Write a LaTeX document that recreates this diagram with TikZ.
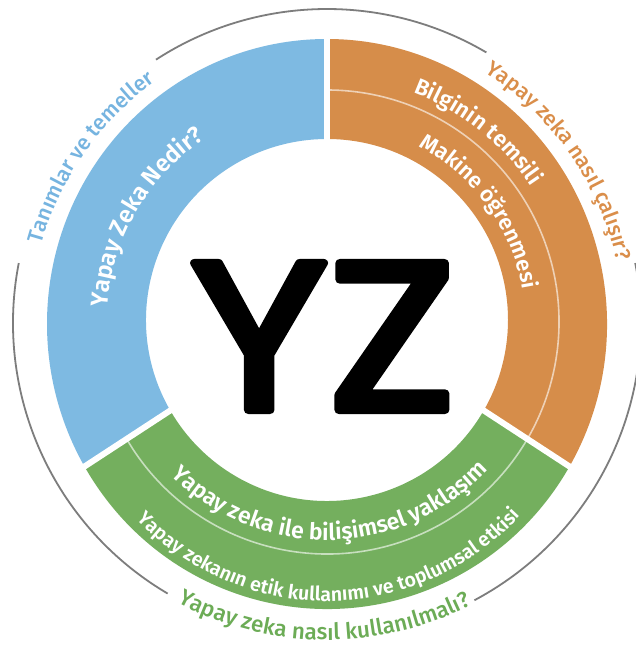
\documentclass[tikz,border=0pt]{standalone}
\usepackage{fontspec}
\setmainfont{Fira Sans}
\newfontfamily\firasemi{Fira Sans SemiBold}
\newfontfamily\firamed{Fira Sans Medium}
\newfontfamily\yzfont{Poppins}
\usetikzlibrary{decorations.text,calc}
\definecolor{cblue}{RGB}{126,186,226}
\definecolor{corange}{RGB}{214,141,74}
\definecolor{cgreen}{RGB}{116,175,94}
\definecolor{cgray}{RGB}{125,125,125}
\definecolor{tblue}{RGB}{118,180,224}
\definecolor{torange}{RGB}{218,142,74}
\definecolor{tgreen}{RGB}{108,172,86}
\begin{document}
\begin{tikzpicture}[x=1pt,y=1pt,
  grayarc/.style={draw=cgray,line width=1.8pt},
  gapline/.style={draw=white,line width=6pt},
  divline/.style={draw=white,draw opacity=0.6,line width=1.6pt}]
\useasboundingbox (0,0) rectangle (636,645);
\fill[white] (0,0) rectangle (636,645);
\clip (0,0) rectangle (636,645);
\coordinate (O) at (327,321);
\coordinate (I) at (327,325);
\coordinate (D) at (327,323);
\coordinate (G) at (327,322);
% ring corners
\coordinate (o90) at ($(O)+(90:280 and 285)$);
\coordinate (o210) at ($(O)+(210:280 and 285)$);
\coordinate (o330) at ($(O)+(330:280 and 285)$);
\coordinate (i90) at ($(I)+(90:181)$);
\coordinate (i210) at ($(I)+(210:181)$);
\coordinate (i330) at ($(I)+(330:181)$);
% ring sectors
\fill[cblue] (o90) arc[start angle=90,end angle=210,x radius=280,y radius=285]
  -- (i210) arc[start angle=210,end angle=90,radius=181] -- cycle;
\fill[cgreen] (o210) arc[start angle=210,end angle=330,x radius=280,y radius=285]
  -- (i330) arc[start angle=330,end angle=210,radius=181] -- cycle;
\fill[corange] (o330) arc[start angle=-30,end angle=90,x radius=280,y radius=285]
  -- (i90) arc[start angle=90,end angle=-30,radius=181] -- cycle;
% divider
\draw[divline] ($(D)+(210:232)$) arc[start angle=210,end angle=450,radius=232];
% gaps
\draw[gapline] ($(i90)!-0.1!(o90)$) -- ($(i90)!1.1!(o90)$);
\draw[gapline] ($(i210)!-0.1!(o210)$) -- ($(i210)!1.1!(o210)$);
\draw[gapline] ($(i330)!-0.1!(o330)$) -- ($(i330)!1.1!(o330)$);
% gray arcs
\draw[grayarc] ($(G)+(59.5:314)$) arc[start angle=59.5,end angle=123,radius=314];
\draw[grayarc] ($(G)+(169:314)$) arc[start angle=169,end angle=239.5,radius=314];
\draw[grayarc] ($(G)+(-62:314)$) arc[start angle=-62,end angle=11,radius=314];
% outer labels
\path[decorate,decoration={text along path,text align=center,text color=tblue,
  text={|\firamed\fontsize{21.5}{21.5}\selectfont|Tanımlar ve temeller}}]
  ($(G)+(185:296)$) arc[start angle=185,end angle=105,radius=296];
\path[decorate,decoration={text along path,text align=center,text color=torange,
  text={|\firamed\fontsize{21.5}{21.5}\selectfont|Yapay zeka nasıl çalışır?}}]
  ($(G)+(80:296)$) arc[start angle=80,end angle=-10,radius=296];
\path[decorate,decoration={text along path,text align=center,text color=tgreen,
  text={|\firamed\fontsize{22.5}{22.5}\selectfont|Yapay zeka nasıl kullanılmalı?}}]
  ($(G)+(215:317)$) arc[start angle=215,end angle=324,radius=317];
% inner labels
\path[decorate,decoration={text along path,text align=center,text color=white,
  text={|\firasemi\fontsize{24}{24}\selectfont|Yapay Zeka Nedir?}}]
  ($(D)+(200:220)$) arc[start angle=200,end angle=100,radius=220];
\path[decorate,decoration={text along path,text align=center,text color=white,
  text={|\firasemi\fontsize{22.5}{22.5}\selectfont|Bilginin temsili}}]
  ($(D)+(90:245)$) arc[start angle=90,end angle=13,radius=245];
\path[decorate,decoration={text along path,text align=center,text color=white,
  text={|\firasemi\fontsize{22}{22}\selectfont|Makine öğrenmesi}}]
  ($(D)+(80:198)$) arc[start angle=80,end angle=-8,radius=198];
\path[decorate,decoration={text along path,text align=center,text color=white,
  text={|\firasemi\fontsize{23}{23}\selectfont|Yapay zeka ile bilişimsel yaklaşım}}]
  ($(I)+(200:220)$) arc[start angle=200,end angle=342,radius=220];
\path[decorate,decoration={text along path,text align=center,text color=white,
  text={|\firasemi\fontsize{19.6}{19.6}\selectfont|Yapay zekanın etik kullanımı ve toplumsal etkisi}}]
  ($(O)+(200:268 and 277)$) arc[start angle=200,end angle=341,x radius=268,y radius=277];
% centre
\node[inner sep=0pt,font=\yzfont\fontsize{211}{211}\selectfont] (yz) at (323,308.5)
  {\scalebox{1.12}[1]{\special{pdf:code q 1 j 1 J 8 w 2 Tr}YZ\special{pdf:code Q}}};
\end{tikzpicture}
\end{document}
